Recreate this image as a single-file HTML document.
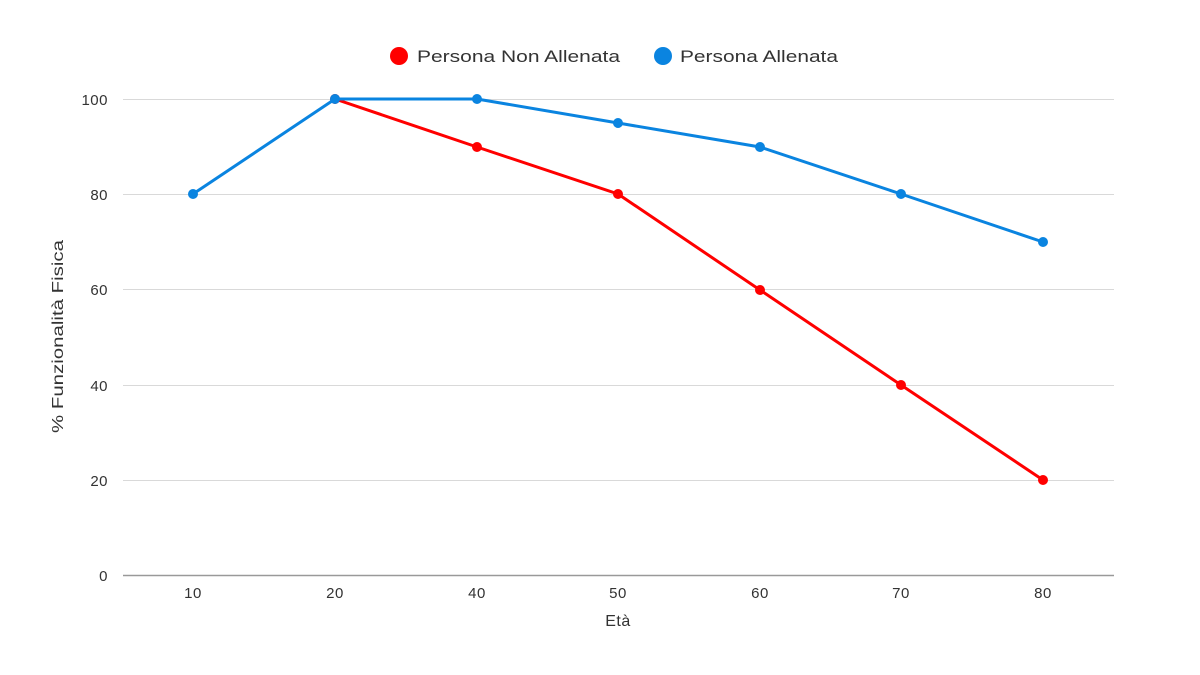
<!DOCTYPE html>
<html><head><meta charset="utf-8"><style>
html,body{margin:0;padding:0;background:#fff;}
svg{display:block;font-family:"Liberation Sans","DejaVu Sans",sans-serif;}
</style></head><body>
<svg width="1200" height="675" viewBox="0 0 1200 675">
<g stroke="#d9d9d9" stroke-width="1">
<line x1="123" x2="1114" y1="99.5" y2="99.5"/>
<line x1="123" x2="1114" y1="194.5" y2="194.5"/>
<line x1="123" x2="1114" y1="289.5" y2="289.5"/>
<line x1="123" x2="1114" y1="385.5" y2="385.5"/>
<line x1="123" x2="1114" y1="480.5" y2="480.5"/>
</g>
<line x1="123" x2="1114" y1="575.5" y2="575.5" stroke="#999" stroke-width="1.5"/>
<g font-size="15" fill="#333" text-anchor="end" letter-spacing="0.5">
<text x="108" y="105">100</text><text x="108" y="200">80</text><text x="108" y="295">60</text>
<text x="108" y="391">40</text><text x="108" y="486">20</text><text x="108" y="581">0</text>
</g>
<g font-size="15" fill="#333" text-anchor="middle" letter-spacing="0.5">
<text x="193" y="598">10</text><text x="335" y="598">20</text><text x="477" y="598">40</text>
<text x="618" y="598">50</text><text x="760" y="598">60</text><text x="901" y="598">70</text><text x="1043" y="598">80</text>
<text x="618" y="626" font-size="16">Età</text>
</g>
<text transform="translate(63,433) rotate(-90)" font-size="16" fill="#333" textLength="193" lengthAdjust="spacingAndGlyphs">% Funzionalità Fisica</text>
<polyline fill="none" stroke="#f00" stroke-width="3" points="335,99 477,147 618,194 760,290 901,385 1043,480"/>
<g fill="#f00">
<circle cx="335" cy="99" r="5"/><circle cx="477" cy="147" r="5"/><circle cx="618" cy="194" r="5"/>
<circle cx="760" cy="290" r="5"/><circle cx="901" cy="385" r="5"/><circle cx="1043" cy="480" r="5"/>
</g>
<polyline fill="none" stroke="#0a84e0" stroke-width="3" points="193,194 335,99 477,99 618,123 760,147 901,194 1043,242"/>
<g fill="#0a84e0">
<circle cx="193" cy="194" r="5"/><circle cx="335" cy="99" r="5"/><circle cx="477" cy="99" r="5"/><circle cx="618" cy="123" r="5"/>
<circle cx="760" cy="147" r="5"/><circle cx="901" cy="194" r="5"/><circle cx="1043" cy="242" r="5"/>
</g>
<circle cx="399" cy="56" r="9" fill="#f00"/>
<text x="417" y="62" font-size="17" fill="#333" textLength="203" lengthAdjust="spacingAndGlyphs">Persona Non Allenata</text>
<circle cx="663" cy="56" r="9" fill="#0a84e0"/>
<text x="680" y="62" font-size="17" fill="#333" textLength="158" lengthAdjust="spacingAndGlyphs">Persona Allenata</text>
</svg>
</body></html>
